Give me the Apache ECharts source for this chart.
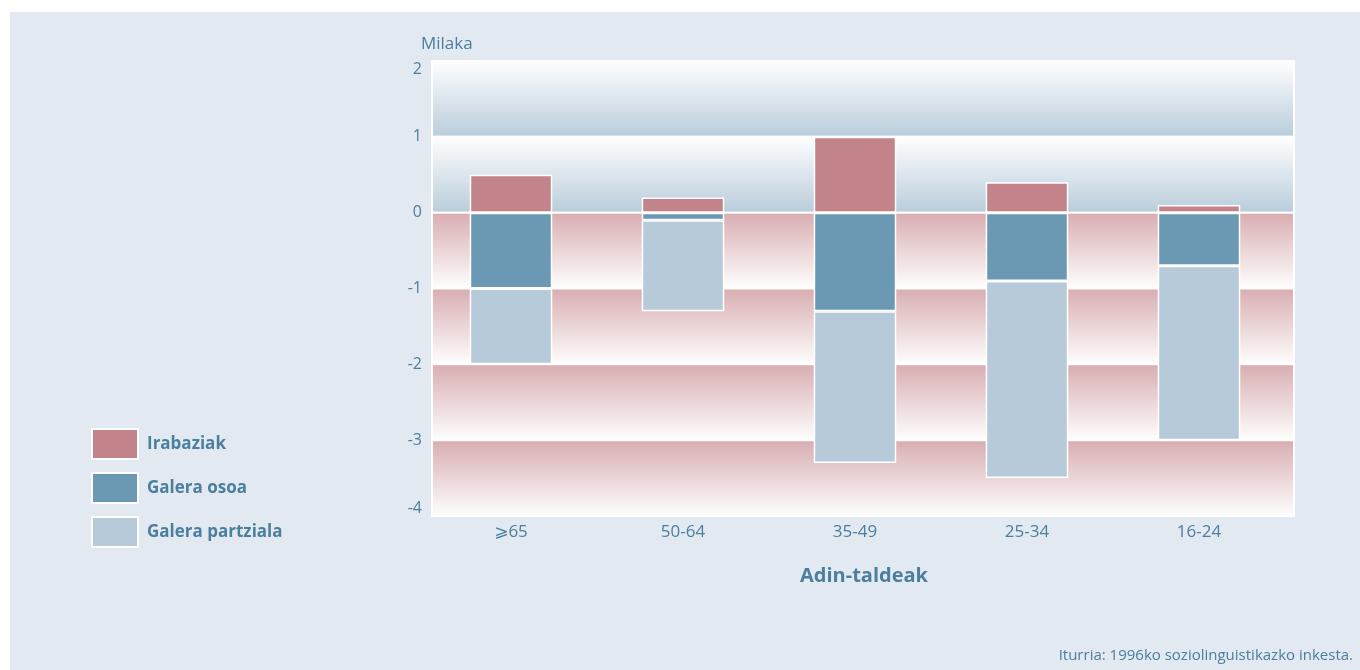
<!DOCTYPE html>
<html>
<head>
<meta charset="utf-8">
<script src="https://cdn.jsdelivr.net/npm/echarts@6/dist/echarts.min.js"></script>
<style>
  html, body { margin: 0; padding: 0; background: #ffffff; }
  #frame { position: absolute; left: 10px; top: 12px; width: 1350px; height: 658px; background: #e2e9f0; }
  #chart { position: absolute; left: -10px; top: -12px; width: 1360px; height: 670px; }
</style>
</head>
<body>
<div id="frame"><div id="chart"></div></div>
<script>
// Age groups (oldest to youngest) and net changes, in thousands
const ageGroups = ['⩾65', '50-64', '35-49', '25-34', '16-24'];
const gains = [0.5, 0.2, 1.0, 0.4, 0.1];          // Irabaziak
const totalLoss = [-1.0, -0.1, -1.3, -0.9, -0.7];  // Galera osoa
const partialLoss = [-1.0, -1.2, -2.0, -2.6, -2.3]; // Galera partziala
const seriesNames = ['Irabaziak', 'Galera osoa', 'Galera partziala'];
const seriesColors = ['#c2848a', '#6b98b3', '#b7cad9'];
const yTicks = [2, 1, 0, -1, -2, -3, -4];

const textColor = '#4a7f9f';
const fontFamily = '"Open Sans", "DejaVu Sans", sans-serif';
const chart = echarts.init(document.getElementById('chart'), null, { renderer: 'canvas' });

// Horizontal background bands: blue above zero, pink below
function bandGradient(positive) {
  return positive
    ? new echarts.graphic.LinearGradient(0, 0, 0, 1, [
        { offset: 0, color: '#ffffff' }, { offset: 1, color: '#b8ccdb' }])
    : new echarts.graphic.LinearGradient(0, 0, 0, 1, [
        { offset: 0, color: '#d8acb0' }, { offset: 1, color: '#ffffff' }]);
}
const bands = [];
for (let i = 0; i < yTicks.length - 1; i++) {
  const top = yTicks[i], bottom = yTicks[i + 1];
  bands.push([
    { yAxis: top, itemStyle: { color: bandGradient(top > 0), borderColor: '#ffffff', borderWidth: 2 } },
    { yAxis: bottom }
  ]);
}

const barStyle = (c) => ({ color: c, borderColor: '#ffffff', borderWidth: 1.5 });
const yRange = { min: yTicks[yTicks.length - 1], max: yTicks[0], interval: 1 };

chart.setOption({
  animation: false,
  textStyle: { fontFamily: fontFamily },
  title: [
    { text: 'Milaka', left: 421, top: 36, padding: 0,
      textStyle: { color: textColor, fontSize: 17, fontWeight: 'normal' } },
    { text: 'Iturria: 1996ko soziolinguistikazko inkesta.', right: 7, top: 648, padding: 0,
      textStyle: { color: textColor, fontSize: 15, fontWeight: 'normal' } }
  ],
  legend: {
    orient: 'vertical', left: 91, top: 428, padding: 0,
    itemWidth: 46, itemHeight: 30, itemGap: 12,
    icon: 'rect',
    data: seriesNames,
    itemStyle: { borderColor: '#ffffff', borderWidth: 2 },
    textStyle: { color: textColor, fontSize: 17, fontWeight: 'bold', padding: [0, 0, 0, 4] }
  },
  grid: [
    // bars
    { left: 425, right: 75, top: 61, bottom: 154 },
    // background bands and value labels
    { left: 432, right: 66, top: 61, bottom: 154 }
  ],
  xAxis: [
    {
      type: 'category', data: ageGroups, gridIndex: 0,
      axisLine: { show: false }, axisTick: { show: false },
      axisLabel: { color: textColor, fontSize: 17, margin: 8 },
      name: 'Adin-taldeak', nameLocation: 'middle', nameGap: 50,
      nameTextStyle: { color: textColor, fontSize: 20, fontWeight: 'bold', padding: [0, 0, 0, 18] }
    },
    { type: 'value', gridIndex: 1, min: 0, max: 1, show: false }
  ],
  yAxis: [
    Object.assign({ type: 'value', gridIndex: 0, axisLine: { show: false }, axisTick: { show: false },
      splitLine: { show: false }, axisLabel: { show: false } }, yRange),
    Object.assign({ type: 'value', gridIndex: 1, axisLine: { show: false }, axisTick: { show: false },
      splitLine: { show: false },
      axisLabel: { color: textColor, fontSize: 16, margin: 10,
        verticalAlignMaxLabel: 'top', verticalAlignMinLabel: 'bottom' } }, yRange)
  ],
  series: [
    { name: 'bands', type: 'line', xAxisIndex: 1, yAxisIndex: 1, data: [], z: 0, silent: true,
      markArea: { silent: true, data: bands } },
    { name: seriesNames[0], type: 'bar', stack: 'total', data: gains, barWidth: '48%', z: 3,
      itemStyle: barStyle(seriesColors[0]) },
    { name: seriesNames[1], type: 'bar', stack: 'total', data: totalLoss, barWidth: '48%', z: 3,
      itemStyle: barStyle(seriesColors[1]) },
    { name: seriesNames[2], type: 'bar', stack: 'total', data: partialLoss, barWidth: '48%', z: 3,
      itemStyle: barStyle(seriesColors[2]) }
  ]
});
</script>
</body>
</html>
